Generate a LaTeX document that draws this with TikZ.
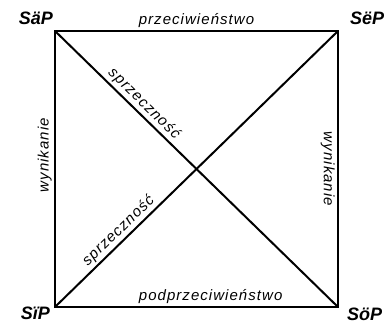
\documentclass[tikz,border=0pt]{standalone}
\usepackage{fontspec}
\setmainfont{Liberation Sans}
\newfontfamily\spacedsans[LetterSpace=7]{Liberation Sans}
\usetikzlibrary{positioning}

\begin{document}
\begin{tikzpicture}[
  x=1pt, y=-1pt,
  cornerlabel/.style={
    inner sep=1pt,
    font=\fontsize{18}{18}\selectfont\bfseries\itshape
  },
  edgelabel/.style={
    inner sep=2pt,
    font=\spacedsans\fontsize{15}{15}\selectfont\itshape
  },
  sideline/.style={draw=black, line width=2.6pt, line cap=rect},
  diagline/.style={draw=black, line width=2pt},
]

\useasboundingbox (0,0) rectangle (386,328);

%% ================================================================
%% CORNERS OF THE SQUARE
%% ================================================================
\coordinate (a) at (55,31);
\coordinate (e) at (338,31);
\coordinate (i) at (55,307);
\coordinate (o) at (338,307);

\node[cornerlabel, anchor=base east, xshift=-1pt, yshift=6pt]  (sap) at (a) {SäP};
\node[cornerlabel, anchor=base west, xshift=11pt, yshift=6pt]  (sep) at (e) {SëP};
\node[cornerlabel, anchor=base east, xshift=-4pt, yshift=-13pt] (sip) at (i) {SïP};
\node[cornerlabel, anchor=base west, xshift=8pt, yshift=-14pt]  (sop) at (o) {SöP};

%% ================================================================
%% SIDES
%% ================================================================
\draw[sideline] (a) -- node[edgelabel, above] (przec) {przeciwieństwo} (e);
\draw[sideline] (i) -- node[edgelabel, above, pos=0.55] (podprzec) {podprzeciwieństwo} (o);
\draw[sideline] (i) -- node[edgelabel, sloped, above, pos=0.55] (wynl) {wynikanie} (a);
\draw[sideline] (e) -- node[edgelabel, sloped, below] (wynr) {wynikanie} (o);

%% ================================================================
%% DIAGONALS
%% ================================================================
\draw[diagline] (a) -- node[edgelabel, sloped, above, pos=0.29] (sprz1) {sprzeczność} (o);
\draw[diagline] (i) -- node[edgelabel, sloped, above, pos=0.25] (sprz2) {sprzeczność} (e);

\end{tikzpicture}
\end{document}
